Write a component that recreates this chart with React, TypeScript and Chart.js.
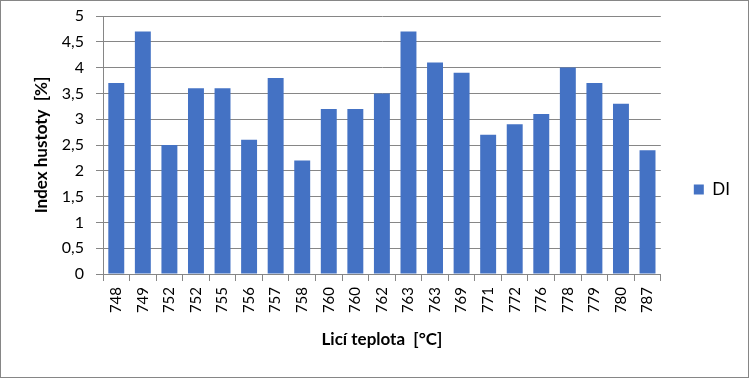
import React, { useEffect, useRef } from "react";
import { Chart, registerables } from "chart.js";

Chart.register(...registerables);

const categories = ["748", "749", "752", "752", "755", "756", "757", "758", "760", "760", "762", "763", "763", "769", "771", "772", "776", "778", "779", "780", "787"];
const diValues = [3.7, 4.7, 2.5, 3.6, 3.6, 2.6, 3.8, 2.2, 3.2, 3.2, 3.5, 4.7, 4.1, 3.9, 2.7, 2.9, 3.1, 4.0, 3.7, 3.3, 2.4];
const seriesName = "DI";
const yTitle = "Index hustoty  [%]";
const xTitle = "Licí teplota  [°C]";

const FONT = "Lato, 'Open Sans', sans-serif";

export default function App() {
  const ref = useRef<HTMLCanvasElement | null>(null);

  useEffect(() => {
    document.body.style.margin = "0";
    const ctx = ref.current!;
    const chart = new Chart(ctx, {
      type: "bar",
      data: {
        labels: categories,
        datasets: [
          {
            label: seriesName,
            data: diValues,
            backgroundColor: "#4472C4",
            borderWidth: 0,
            barPercentage: 0.6,
            categoryPercentage: 1,
          },
        ],
      },
      options: {
        responsive: false,
        animation: false,
        maintainAspectRatio: false,
        layout: { padding: { top: 15, right: 8, left: 0, bottom: 14 } },
        plugins: {
          tooltip: { enabled: false },
          legend: {
            position: "right",
            labels: {
              boxWidth: 10,
              boxHeight: 10,
              padding: 33,
              color: "#000",
              font: { family: FONT, size: 17 },
            },
          },
        },
        scales: {
          x: {
            afterFit: (s: any) => {
              s.height = 89;
            },
            grid: {
              display: true,
              drawOnChartArea: false,
              drawTicks: true,
              tickLength: 7,
              color: "#868686",
              offset: true,
            },
            border: { display: true, color: "#868686" },
            ticks: {
              color: "#000",
              font: { family: FONT, size: 15 },
              minRotation: 90,
              maxRotation: 90,
              autoSkip: false,
              padding: 6,
            },
            title: {
              display: true,
              text: xTitle,
              color: "#000",
              font: { family: FONT, size: 17, weight: "bold" },
              padding: { top: 0, bottom: 13 },
            },
          },
          y: {
            min: 0,
            max: 5,
            afterFit: (s: any) => {
              s.width = 102;
              s.paddingTop = 0;
              s.paddingBottom = 0;
            },
            grid: {
              color: "#868686",
              tickLength: 7,
            },
            border: { display: true, color: "#868686" },
            ticks: {
              stepSize: 0.5,
              color: "#000",
              font: { family: FONT, size: 16 },
              padding: 12,
              callback: (v: any) => String(Number(v)).replace(".", ","),
            },
            title: {
              display: true,
              text: yTitle,
              color: "#000",
              font: { family: FONT, size: 17, weight: "bold" },
              padding: { top: 30, bottom: 0 },
            },
          },
        },
      },
    });
    return () => chart.destroy();
  }, []);

  return (
    <div
      style={{
        width: 749,
        height: 378,
        border: "1px solid #868686",
        boxSizing: "border-box",
        background: "#fff",
      }}
    >
      <canvas ref={ref} width={747} height={376} style={{ display: "block" }} />
    </div>
  );
}
